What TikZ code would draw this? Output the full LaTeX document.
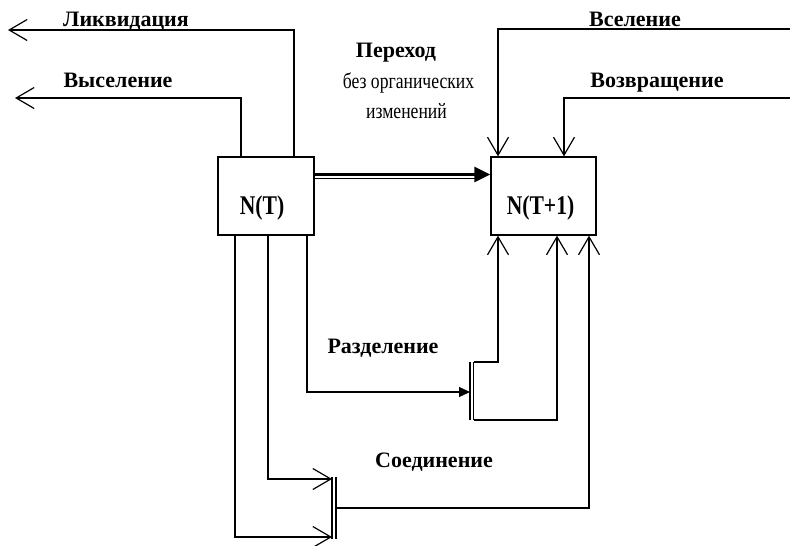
\documentclass[tikz,border=0pt]{standalone}
\usepackage{fontspec}
\setmainfont{Liberation Serif}
\newfontfamily\narrowserif[FakeStretch=0.8]{Liberation Serif}
\usetikzlibrary{arrows.meta}
\begin{document}
\begin{tikzpicture}[x=1pt,y=-1pt,
  line width=1.2pt,
  box/.style={draw,line width=1.3pt,inner sep=0pt,font=\fontsize{27}{30}\selectfont\narrowserif\bfseries,text height=36pt,text depth=0pt},
  lbl/.style={anchor=base,inner sep=0pt,font=\fontsize{22}{26}\selectfont\bfseries},
  rlbl/.style={anchor=base,inner sep=0pt,font=\fontsize{22}{26}\selectfont\narrowserif},
  openarr/.style={-{Straight Barb[length=18pt,width=21pt,line width=1.2pt]}},
  bigarr/.style={-{Triangle[length=16pt,width=15pt]}},
  fillarr/.style={-{Triangle[length=11pt,width=10pt]}},
  barline/.style={line width=1.2pt}]
\useasboundingbox (0,0) rectangle (790,546);
\node[box,minimum width=96pt,minimum height=78pt] (NT) at (266,196) {N(T)\kern8pt};
\node[box,minimum width=105pt,minimum height=78pt] (NT1) at (543.5,196) {N(T+1)\kern6pt};
% labels
\node[lbl] (l1) at (126,26) {Ликвидация};
\node[lbl] (l2) at (118,87) {Выселение};
\node[lbl] (l3) at (635,26) {Вселение};
\node[lbl] (l4) at (657,87) {Возвращение};
\node[lbl] (l5) at (396,57) {Переход};
\node[rlbl] (l6) at (408.5,88) {без органических};
\node[rlbl] (l7) at (406.5,118) {изменений};
\node[lbl] (l8) at (383,353) {Разделение};
\node[lbl] (l9) at (434,467) {Соединение};
% coordinates
\coordinate (liq) at (294,30);
\coordinate (liqend) at (8,30);
\coordinate (vys) at (241,98);
\coordinate (vysend) at (15,98);
\coordinate (vsstart) at (790,29);
\coordinate (vs) at (498,29);
\coordinate (vzstart) at (790,98);
\coordinate (vz) at (564,98);
% outgoing top
\draw[openarr] (NT.north -| liq) -- (liq) -- (liqend);
\draw[openarr] (NT.north -| vys) -- (vys) -- (vysend);
\draw[openarr] (vsstart) -- (vs) -- (NT1.north -| vs);
\draw[openarr] (vzstart) -- (vz) -- (NT1.north -| vz);
% transition
\coordinate (tr) at (0,174.5);
\coordinate (tr2) at (0,178.5);
\coordinate (trend) at (477,178.5);
\draw[line width=2.6pt,bigarr] (NT.east |- tr) -- (NT1.west |- tr);
\draw[line width=0.9pt] (NT.east |- tr2) -- (trend);
% division
\coordinate (d1) at (307,392);
\coordinate (dbar) at (470,392);
\coordinate (dbt) at (470,362);
\coordinate (dbb) at (470,420);
\coordinate (dbt2) at (473.5,362);
\coordinate (dbb2) at (473.5,420);
\coordinate (da) at (498,362);
\coordinate (db) at (557,420);
\draw[fillarr] (NT.south -| d1) -- (d1) -- (dbar);
\draw[barline] (dbt) -- (dbb);
\draw[barline] (dbt2) -- (dbb2);
\draw[openarr] (dbt2) -- (da) -- (NT1.south -| da);
\draw[openarr] (dbb2) -- (db) -- (NT1.south -| db);
% union
\coordinate (u1) at (268,479);
\coordinate (u2) at (235,537);
\coordinate (ua1) at (332,479);
\coordinate (ua2) at (332,537);
\coordinate (ubt) at (332,477);
\coordinate (ubb) at (332,539);
\coordinate (ubt2) at (336,477);
\coordinate (ubb2) at (336,539);
\coordinate (uo) at (336,508);
\coordinate (uc) at (589,508);
\draw[openarr] (NT.south -| u1) -- (u1) -- (ua1);
\draw[openarr] (NT.south -| u2) -- (u2) -- (ua2);
\draw[barline] (ubt) -- (ubb);
\draw[barline] (ubt2) -- (ubb2);
\draw[openarr] (uo) -- (uc) -- (NT1.south -| uc);
\end{tikzpicture}
\end{document}
